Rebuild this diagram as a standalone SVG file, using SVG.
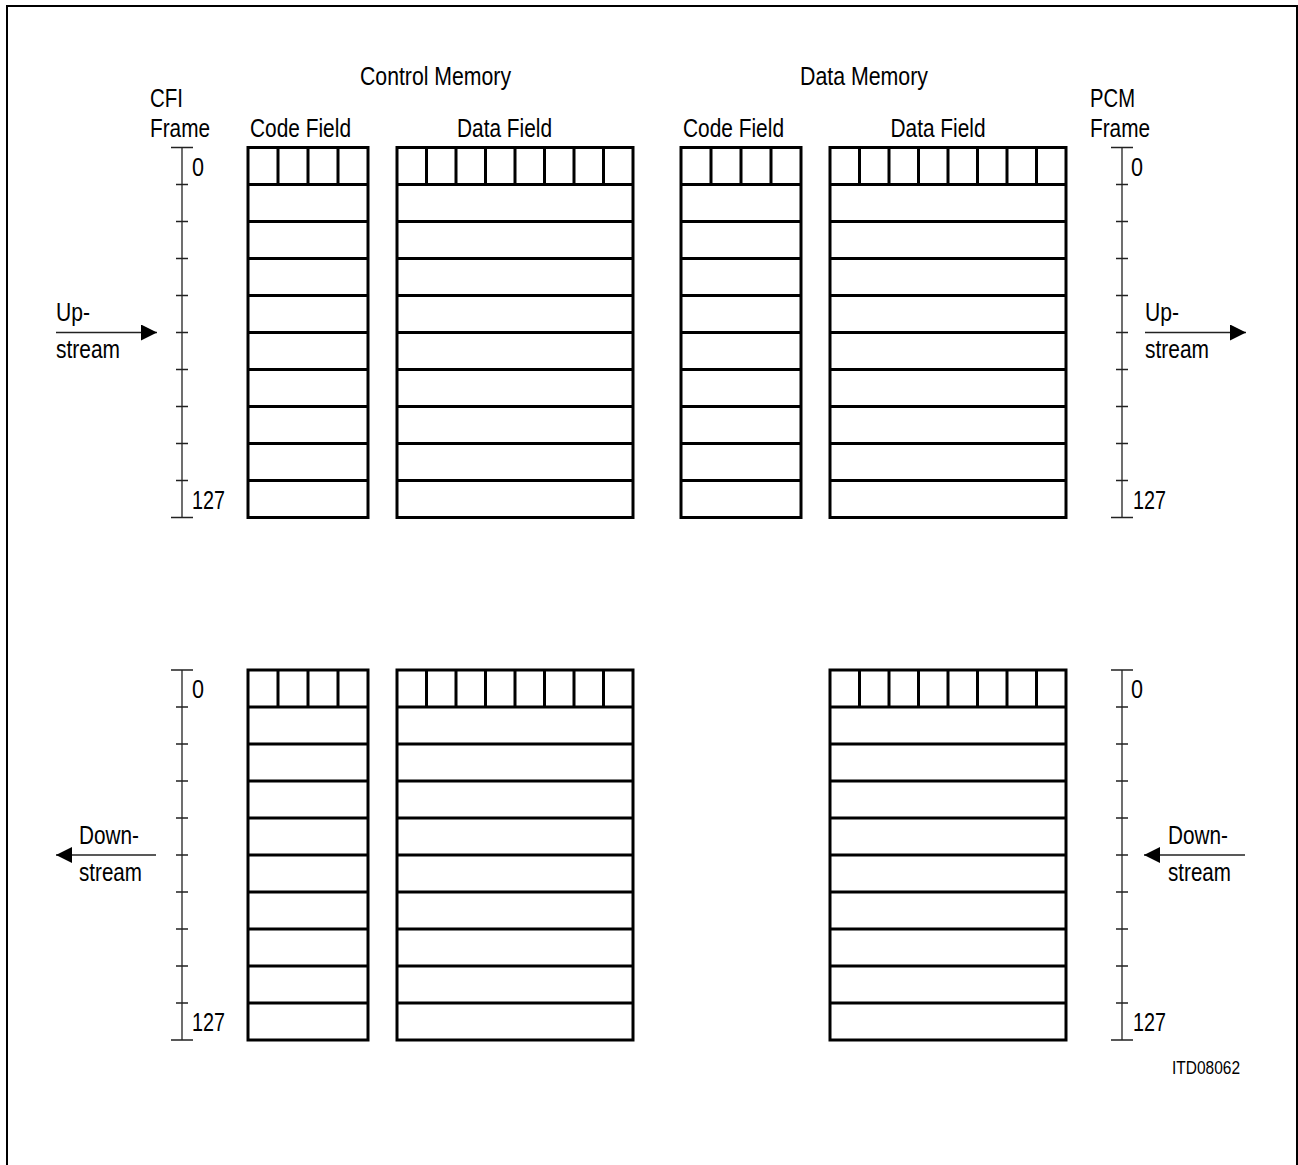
<svg xmlns="http://www.w3.org/2000/svg" width="1298" height="1165" viewBox="0 0 1298 1165">
<style>
text{font-family:"Liberation Sans",Arial,sans-serif;font-size:25px;fill:#000}
.small{font-size:19px}
.box{fill:none;stroke:#000;stroke-width:3}
.axis{fill:none;stroke:#222;stroke-width:1.3}
.conn{fill:none;stroke:#222;stroke-width:1.3}
</style>
<defs>
<marker id="arr" markerUnits="userSpaceOnUse" markerWidth="17" markerHeight="17" refX="16" refY="8" orient="auto">
<path d="M0,0 L16,8 L0,16 z" fill="#000"/>
</marker>
</defs>
<rect width="1298" height="1165" fill="#fff"/>
<path d="M7,1166 V6 H1297 V1166" fill="none" stroke="#000" stroke-width="2"/>

<g id="titles">
<text x="435.5" y="85" text-anchor="middle" textLength="151" lengthAdjust="spacingAndGlyphs">Control Memory</text>
<text x="864" y="85" text-anchor="middle" textLength="128" lengthAdjust="spacingAndGlyphs">Data Memory</text>
<text x="150" y="107" textLength="33" lengthAdjust="spacingAndGlyphs">CFI</text>
<text x="150" y="137" textLength="60" lengthAdjust="spacingAndGlyphs">Frame</text>
<text x="1090" y="107" textLength="45" lengthAdjust="spacingAndGlyphs">PCM</text>
<text x="1090" y="137" textLength="60" lengthAdjust="spacingAndGlyphs">Frame</text>
<text x="300.5" y="137" text-anchor="middle" textLength="101" lengthAdjust="spacingAndGlyphs">Code Field</text>
<text x="504.5" y="137" text-anchor="middle" textLength="95" lengthAdjust="spacingAndGlyphs">Data Field</text>
<text x="733.5" y="137" text-anchor="middle" textLength="101" lengthAdjust="spacingAndGlyphs">Code Field</text>
<text x="938" y="137" text-anchor="middle" textLength="95" lengthAdjust="spacingAndGlyphs">Data Field</text>
<text class="small" x="1172" y="1074" textLength="68" lengthAdjust="spacingAndGlyphs">ITD08062</text>
</g>

<g id="cfi-axis-up">
<path class="axis" d="M182,147.5 V517.5 M171,147.5 H193 M171,517.5 H193 M176,184.5 H188 M176,221.5 H188 M176,258.5 H188 M176,295.5 H188 M176,332.5 H188 M176,369.5 H188 M176,406.5 H188 M176,443.5 H188 M176,480.5 H188"/>
<text x="192" y="176" textLength="12" lengthAdjust="spacingAndGlyphs">0</text>
<text x="192" y="509" textLength="33" lengthAdjust="spacingAndGlyphs">127</text>
</g>
<g id="cfi-axis-down">
<path class="axis" d="M182,670 V1040 M171,670 H193 M171,1040 H193 M176,707 H188 M176,744 H188 M176,781 H188 M176,818 H188 M176,855 H188 M176,892 H188 M176,929 H188 M176,966 H188 M176,1003 H188"/>
<text x="192" y="698" textLength="12" lengthAdjust="spacingAndGlyphs">0</text>
<text x="192" y="1031" textLength="33" lengthAdjust="spacingAndGlyphs">127</text>
</g>
<g id="pcm-axis-up">
<path class="axis" d="M1122,147.5 V517.5 M1111,147.5 H1133 M1111,517.5 H1133 M1116,184.5 H1128 M1116,221.5 H1128 M1116,258.5 H1128 M1116,295.5 H1128 M1116,332.5 H1128 M1116,369.5 H1128 M1116,406.5 H1128 M1116,443.5 H1128 M1116,480.5 H1128"/>
<text x="1131" y="176" textLength="12" lengthAdjust="spacingAndGlyphs">0</text>
<text x="1133" y="509" textLength="33" lengthAdjust="spacingAndGlyphs">127</text>
</g>
<g id="pcm-axis-down">
<path class="axis" d="M1122,670 V1040 M1111,670 H1133 M1111,1040 H1133 M1116,707 H1128 M1116,744 H1128 M1116,781 H1128 M1116,818 H1128 M1116,855 H1128 M1116,892 H1128 M1116,929 H1128 M1116,966 H1128 M1116,1003 H1128"/>
<text x="1131" y="698" textLength="12" lengthAdjust="spacingAndGlyphs">0</text>
<text x="1133" y="1031" textLength="33" lengthAdjust="spacingAndGlyphs">127</text>
</g>

<g id="ctrl-code-up">
<rect class="box" x="248" y="147.5" width="120" height="370"/>
<path class="box" d="M248,184.5 H368 M248,221.5 H368 M248,258.5 H368 M248,295.5 H368 M248,332.5 H368 M248,369.5 H368 M248,406.5 H368 M248,443.5 H368 M248,480.5 H368 M278,147.5 V184.5 M308,147.5 V184.5 M338,147.5 V184.5"/>
</g>
<g id="ctrl-data-up">
<rect class="box" x="397" y="147.5" width="236" height="370"/>
<path class="box" d="M397,184.5 H633 M397,221.5 H633 M397,258.5 H633 M397,295.5 H633 M397,332.5 H633 M397,369.5 H633 M397,406.5 H633 M397,443.5 H633 M397,480.5 H633 M426.5,147.5 V184.5 M456,147.5 V184.5 M485.5,147.5 V184.5 M515,147.5 V184.5 M544.5,147.5 V184.5 M574,147.5 V184.5 M603.5,147.5 V184.5"/>
</g>
<g id="data-code-up">
<rect class="box" x="681" y="147.5" width="120" height="370"/>
<path class="box" d="M681,184.5 H801 M681,221.5 H801 M681,258.5 H801 M681,295.5 H801 M681,332.5 H801 M681,369.5 H801 M681,406.5 H801 M681,443.5 H801 M681,480.5 H801 M711,147.5 V184.5 M741,147.5 V184.5 M771,147.5 V184.5"/>
</g>
<g id="data-data-up">
<rect class="box" x="830" y="147.5" width="236" height="370"/>
<path class="box" d="M830,184.5 H1066 M830,221.5 H1066 M830,258.5 H1066 M830,295.5 H1066 M830,332.5 H1066 M830,369.5 H1066 M830,406.5 H1066 M830,443.5 H1066 M830,480.5 H1066 M859.5,147.5 V184.5 M889,147.5 V184.5 M918.5,147.5 V184.5 M948,147.5 V184.5 M977.5,147.5 V184.5 M1007,147.5 V184.5 M1036.5,147.5 V184.5"/>
</g>

<g id="ctrl-code-down">
<rect class="box" x="248" y="670" width="120" height="370"/>
<path class="box" d="M248,707 H368 M248,744 H368 M248,781 H368 M248,818 H368 M248,855 H368 M248,892 H368 M248,929 H368 M248,966 H368 M248,1003 H368 M278,670 V707 M308,670 V707 M338,670 V707"/>
</g>
<g id="ctrl-data-down">
<rect class="box" x="397" y="670" width="236" height="370"/>
<path class="box" d="M397,707 H633 M397,744 H633 M397,781 H633 M397,818 H633 M397,855 H633 M397,892 H633 M397,929 H633 M397,966 H633 M397,1003 H633 M426.5,670 V707 M456,670 V707 M485.5,670 V707 M515,670 V707 M544.5,670 V707 M574,670 V707 M603.5,670 V707"/>
</g>
<g id="data-data-down">
<rect class="box" x="830" y="670" width="236" height="370"/>
<path class="box" d="M830,707 H1066 M830,744 H1066 M830,781 H1066 M830,818 H1066 M830,855 H1066 M830,892 H1066 M830,929 H1066 M830,966 H1066 M830,1003 H1066 M859.5,670 V707 M889,670 V707 M918.5,670 V707 M948,670 V707 M977.5,670 V707 M1007,670 V707 M1036.5,670 V707"/>
</g>

<g id="connectors">
<path class="conn" d="M56,332.5 H157" marker-end="url(#arr)"/>
<path class="conn" d="M1145,332.5 H1246" marker-end="url(#arr)"/>
<path class="conn" d="M156,855 H56" marker-end="url(#arr)"/>
<path class="conn" d="M1245,855 H1144" marker-end="url(#arr)"/>
</g>
<g id="arrow-labels">
<text x="56" y="321" textLength="34" lengthAdjust="spacingAndGlyphs">Up-</text>
<text x="56" y="358" textLength="64" lengthAdjust="spacingAndGlyphs">stream</text>
<text x="1145" y="321" textLength="34" lengthAdjust="spacingAndGlyphs">Up-</text>
<text x="1145" y="358" textLength="64" lengthAdjust="spacingAndGlyphs">stream</text>
<text x="79" y="844" textLength="60" lengthAdjust="spacingAndGlyphs">Down-</text>
<text x="79" y="881" textLength="63" lengthAdjust="spacingAndGlyphs">stream</text>
<text x="1168" y="844" textLength="60" lengthAdjust="spacingAndGlyphs">Down-</text>
<text x="1168" y="881" textLength="63" lengthAdjust="spacingAndGlyphs">stream</text>
</g>
</svg>
